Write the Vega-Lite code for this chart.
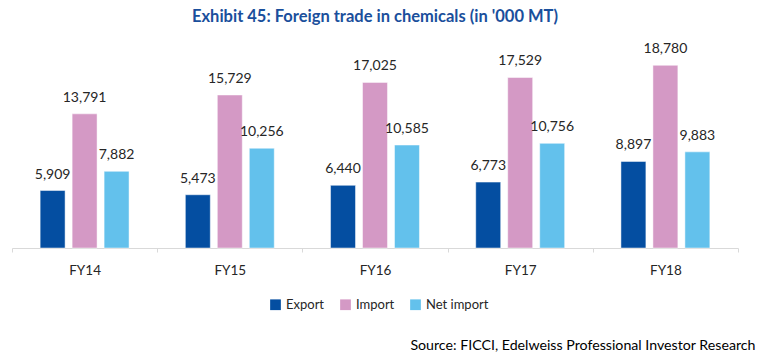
{
  "$schema": "https://vega.github.io/schema/vega-lite/v6.json",
  "width": 726,
  "height": 214,
  "autosize": {"type": "none"},
  "padding": {"left": 12, "top": 34, "right": 31, "bottom": 115},
  "title": {
    "text": "Exhibit 45: Foreign trade in chemicals (in '000 MT)",
    "font": "Lato",
    "fontSize": 16.5,
    "fontWeight": "bold",
    "color": "#1a4f9c",
    "anchor": "middle",
    "offset": 9
  },
  "data": {
    "values": [
      {"year": "FY14", "series": "Export", "value": 5909},
      {"year": "FY14", "series": "Import", "value": 13791},
      {"year": "FY14", "series": "Net import", "value": 7882},
      {"year": "FY15", "series": "Export", "value": 5473},
      {"year": "FY15", "series": "Import", "value": 15729},
      {"year": "FY15", "series": "Net import", "value": 10256},
      {"year": "FY16", "series": "Export", "value": 6440},
      {"year": "FY16", "series": "Import", "value": 17025},
      {"year": "FY16", "series": "Net import", "value": 10585},
      {"year": "FY17", "series": "Export", "value": 6773},
      {"year": "FY17", "series": "Import", "value": 17529},
      {"year": "FY17", "series": "Net import", "value": 10756},
      {"year": "FY18", "series": "Export", "value": 8897},
      {"year": "FY18", "series": "Import", "value": 18780},
      {"year": "FY18", "series": "Net import", "value": 9883}
    ]
  },
  "encoding": {
    "x": {
      "field": "year",
      "type": "nominal",
      "scale": {"paddingInner": 0, "paddingOuter": 0},
      "axis": {
        "labelAngle": 0,
        "domainColor": "#d9d9d9",
        "tickColor": "#d9d9d9",
        "tickBand": "extent",
        "tickSize": 4,
        "labelFont": "Lato",
        "labelFontSize": 13.5,
        "labelColor": "#262626",
        "labelPadding": 11,
        "title": "Source: FICCI, Edelweiss Professional Investor Research",
        "titleFont": "Lato",
        "titleFontSize": 14.2,
        "titleFontWeight": "normal",
        "titleColor": "#000000",
        "titleAnchor": "end",
        "titleAlign": "right",
        "titleBaseline": "middle",
        "titleX": 743,
        "titleY": 97
      }
    },
    "xOffset": {
      "field": "series",
      "type": "nominal",
      "sort": ["Export", "Import", "Net import"],
      "scale": {"paddingInner": 0.22, "paddingOuter": 0.88}
    },
    "y": {
      "field": "value",
      "type": "quantitative",
      "scale": {"domain": [0, 22000]},
      "axis": null
    }
  },
  "layer": [
    {
      "mark": {"type": "bar", "stroke": "#ffffff", "strokeWidth": 0.8, "strokeOpacity": 0.6},
      "encoding": {
        "color": {
          "field": "series",
          "type": "nominal",
          "sort": ["Export", "Import", "Net import"],
          "scale": {"domain": ["Export", "Import", "Net import"], "range": ["#044ea1", "#d499c5", "#63c1ec"]},
          "legend": {
            "orient": "none",
            "direction": "horizontal",
            "legendX": 257,
            "legendY": 264,
            "title": null,
            "symbolType": "square",
            "symbolSize": 115,
            "symbolStrokeWidth": 0,
            "labelFont": "Lato",
            "labelFontSize": 13,
            "labelColor": "#262626",
            "columnPadding": 14,
            "labelOffset": 4
          }
        }
      }
    },
    {
      "mark": {"type": "text", "baseline": "bottom", "dy": -9, "font": "Lato", "fontSize": 14, "color": "#262626"},
      "encoding": {
        "text": {"field": "value", "type": "quantitative", "format": ","}
      }
    }
  ],
  "config": {"view": {"stroke": null}}
}
